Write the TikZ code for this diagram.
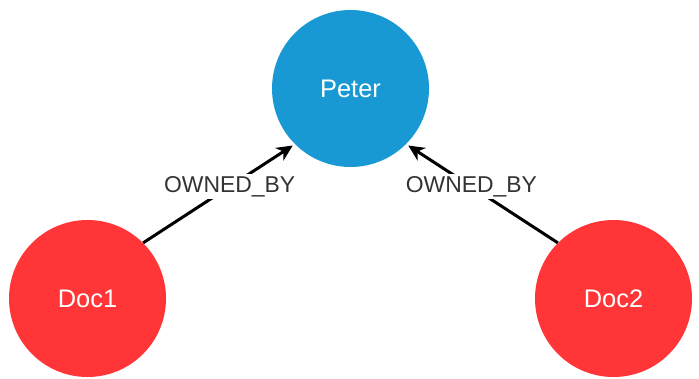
\documentclass[tikz,border=0pt]{standalone}
\usepackage{fontspec}
\setmainfont{Liberation Sans}
\usetikzlibrary{arrows.meta}
\definecolor{personblue}{HTML}{1899D3}
\definecolor{docred}{HTML}{FF3537}
\definecolor{labelgray}{HTML}{333333}
\tikzset{
  entity/.style={circle, minimum size=157bp, inner sep=0pt, text=white,
    font=\fontsize{25.5}{25.5}\selectfont},
  person/.style={entity, fill=personblue},
  document/.style={entity, fill=docred},
  relation/.style={draw=black, line width=3bp,
    -{Stealth[length=16bp, width=15bp, inset=5bp]}, shorten >=2.5bp},
  rellabel/.style={fill=white, inner sep=2.5bp, text=labelgray,
    font=\fontsize{23}{23}\selectfont}
}
\begin{document}
\begin{tikzpicture}[x=1bp, y=1bp]
  \useasboundingbox (0,0) rectangle (699,378);
  \node[person]   (peter) at (350.5,289.5) {Peter};
  \node[document] (doc1)  at (87.5,79.5)   {Doc1};
  \node[document] (doc2)  at (613.5,79.5)  {Doc2};
  \draw[relation] (doc1.45)  -- node[rellabel, pos=0.57] {OWNED\_BY} (peter.225);
  \draw[relation] (doc2.135) -- node[rellabel, pos=0.57] {OWNED\_BY} (peter.-45);
\end{tikzpicture}
\end{document}
